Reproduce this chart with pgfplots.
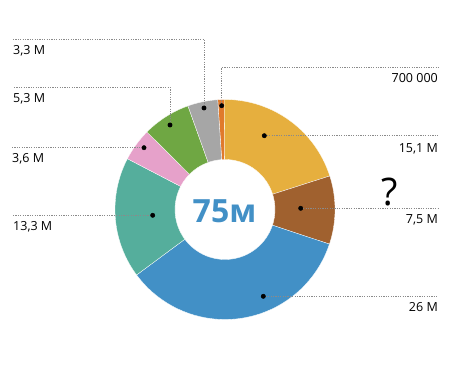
\documentclass[border=0pt]{standalone}
\usepackage{pgfplots}
\pgfplotsset{compat=1.18}
\usepackage{pgfplotstable}
\usepackage{fontspec}
\setmainfont{Open Sans}
\definecolor{cOrange}{HTML}{E07A2C}
\definecolor{cYellow}{HTML}{E6AF3E}
\definecolor{cBrown}{HTML}{A0612F}
\definecolor{cBlue}{HTML}{4290C6}
\definecolor{cTeal}{HTML}{55AE9C}
\definecolor{cPink}{HTML}{E6A1CA}
\definecolor{cGreen}{HTML}{6FA743}
\definecolor{cGray}{HTML}{A6A6A6}
\definecolor{cLead}{HTML}{8A8A8A}

% slice values (millions), clockwise from the top
\pgfplotstableread{
value color
0.7  cOrange
15.1 cYellow
7.5  cBrown
26   cBlue
13.3 cTeal
3.6  cPink
5.3  cGreen
3.3  cGray
}\slices

\begin{document}
\begin{tikzpicture}
\begin{axis}[
  scale only axis, width=450pt, height=374pt,
  xmin=0, xmax=450, ymin=0, ymax=374, y dir=reverse,
  hide axis, clip=false,
]
\path (rel axis cs:0,0) rectangle (rel axis cs:1,1);
\def\cx{225}\def\cy{209.5}\def\R{110}\def\r{50}
\pgfmathsetmacro\acc{93.8}
\pgfplotsforeachungrouped \i in {0,...,7}{%
  \pgfplotstablegetelem{\i}{value}\of\slices \let\v\pgfplotsretval
  \pgfplotstablegetelem{\i}{color}\of\slices \let\c\pgfplotsretval
  \pgfmathsetmacro\aone{\acc}%
  \pgfmathsetmacro\atwo{\acc-\v*360/74.8}%
  \global\let\acc\atwo
  \edef\temp{\noexpand\addplot[fill=\c, draw=white, line width=0.3pt, samples at={0,1,...,81}]
    ({\cx+((x<41) ? \R : \r)*cos((x<41) ? (\aone+(\atwo-\aone)*x/40) : (\atwo-(\atwo-\aone)*(x-41)/40))},
     {\cy-((x<41) ? \R : \r)*sin((x<41) ? (\aone+(\atwo-\aone)*x/40) : (\atwo-(\atwo-\aone)*(x-41)/40))}) -- cycle;}%
  \temp
}
% leader lines
\pgfplotsset{lead/.style={cLead, line width=0.6pt, dash pattern=on 1.2pt off 1.2pt}}
\addplot[lead] coordinates {(13,39) (204,39) (204,108)};
\addplot[lead] coordinates {(14,87) (170,87) (170,125)};
\addplot[lead] coordinates {(12,147.7) (144,147.7)};
\addplot[lead] coordinates {(13,215.3) (152.7,215.3)};
\addplot[lead] coordinates {(221.7,105.7) (221.7,67.5) (438,67.5)};
\addplot[lead] coordinates {(264.3,135.7) (438,135.7)};
\addplot[lead] coordinates {(300.7,208.3) (438,208.3)};
\addplot[lead] coordinates {(263.3,296.3) (438,296.3)};
% dots
\addplot[only marks, mark=*, mark size=2.2pt, black] coordinates {
 (204,108) (170,125) (144,147.7) (152.7,215.3)
 (221.7,105.7) (264.3,135.7) (300.7,208.3) (263.3,296.3)};
% labels
\tikzset{lab/.style={font=\fontsize{12.5}{14}\selectfont, inner sep=0pt}}
\node[lab, anchor=west] at (axis cs:13,50.5) {3,3 M};
\node[lab, anchor=west] at (axis cs:13,98.5) {5,3 M};
\node[lab, anchor=west] at (axis cs:12,158.5) {3,6 M};
\node[lab, anchor=west] at (axis cs:13,227) {13,3 M};
\node[lab, anchor=east] at (axis cs:438,78.5) {700 000};
\node[lab, anchor=east] at (axis cs:438,148.5) {15,1 M};
\node[lab, anchor=east] at (axis cs:438,220) {7,5 M};
\node[lab, anchor=east] at (axis cs:438,307.5) {26 M};
\node[font=\fontsize{38}{40}\selectfont, inner sep=0pt] at (axis cs:390,192) {?};
\node[font=\bfseries\fontsize{32}{36}\selectfont, text=cBlue, inner sep=0pt] at (axis cs:224.5,211) {75м};
\end{axis}
\end{tikzpicture}
\end{document}
